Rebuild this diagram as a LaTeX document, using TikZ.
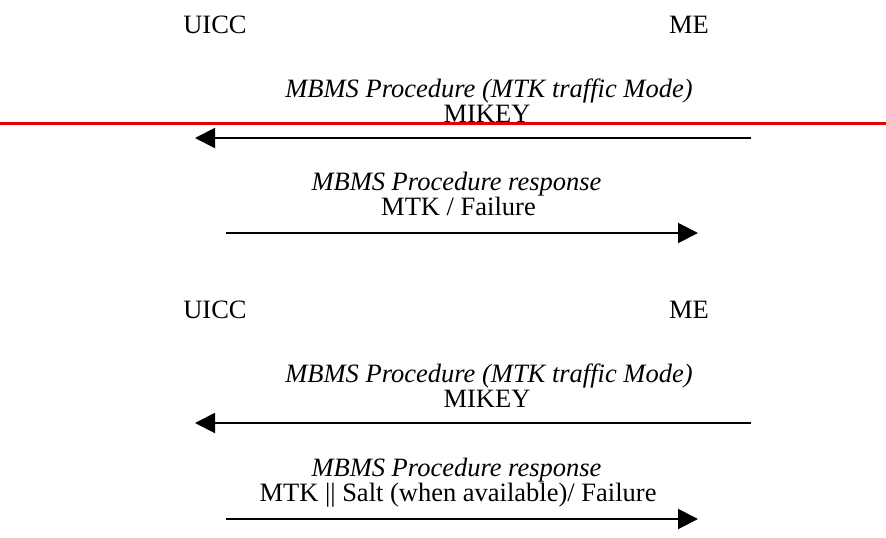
\documentclass[tikz,border=0pt]{standalone}
\usepackage{fontspec}
\setmainfont{Liberation Serif}
\usetikzlibrary{arrows.meta}
\tikzset{
  lbl/.style={anchor=base,inner sep=0pt,font=\fontsize{26.5}{31}\selectfont},
  ilbl/.style={lbl,font=\fontsize{26.5}{31}\selectfont\itshape},
  msg/.style={line width=2pt,-{Triangle[length=20pt,width=20pt]}},
  redline/.style={line width=2.5pt,draw={rgb,255:red,230;green,0;blue,0}}
}
\begin{document}
\begin{tikzpicture}[x=1pt,y=-1pt]
\useasboundingbox (0,0) rectangle (886,538);
% block 1
\node[lbl] (u1) at (215,33) {UICC};
\node[lbl] (m1) at (689,33) {ME};
\node[ilbl] (p1) at (489,97) {MBMS Procedure (MTK traffic Mode)};
\node[lbl] (k1) at (487,122) {MIKEY};
\coordinate (r1) at (0,123.5);
\coordinate (r2) at (886,123.5);
\draw[redline] (r1) -- (r2);
\coordinate (a1s) at (751,138);
\coordinate (a1e) at (195,138);
\draw[msg] (a1s) -- (a1e);
\node[ilbl] (q1) at (456.5,190) {MBMS Procedure response};
\node[lbl] (f1) at (458.5,215) {MTK / Failure};
\coordinate (b1s) at (226,233);
\coordinate (b1e) at (698,233);
\draw[msg] (b1s) -- (b1e);
% block 2
\node[lbl] (u2) at (215,318) {UICC};
\node[lbl] (m2) at (689,318) {ME};
\node[ilbl] (p2) at (489,382) {MBMS Procedure (MTK traffic Mode)};
\node[lbl] (k2) at (487,407) {MIKEY};
\coordinate (a2s) at (751,423);
\coordinate (a2e) at (195,423);
\draw[msg] (a2s) -- (a2e);
\node[ilbl] (q2) at (456.5,476) {MBMS Procedure response};
\node[lbl] (f2) at (458,501) {MTK || Salt (when available)/ Failure};
\coordinate (b2s) at (226,519);
\coordinate (b2e) at (698,519);
\draw[msg] (b2s) -- (b2e);
\end{tikzpicture}
\end{document}
